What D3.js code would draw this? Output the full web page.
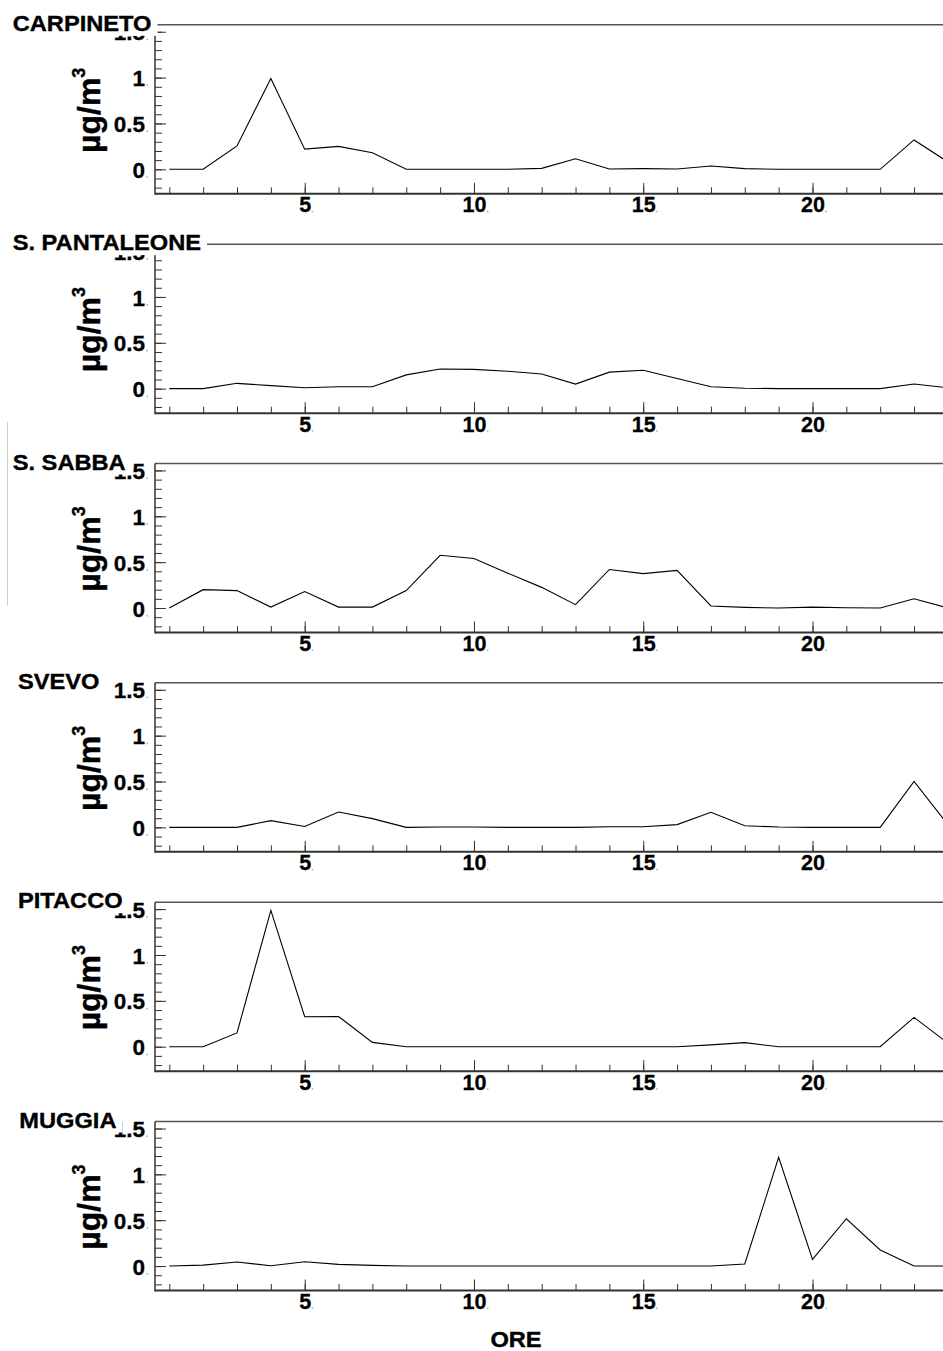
<!DOCTYPE html>
<html>
<head>
<meta charset="utf-8">
<script src="https://cdn.jsdelivr.net/npm/d3@7/dist/d3.min.js"></script>
<style>
  html, body { margin: 0; padding: 0; background: #fff; }
  svg { display: block; }
  text { font-family: "Liberation Sans", Arial, Helvetica, sans-serif; font-weight: bold; fill: #000; }
</style>
</head>
<body>
<svg id="chart" width="943" height="1351"></svg>
<script>
// ---- DATA ----
const hours = [1,2,3,4,5,6,7,8,9,10,11,12,13,14,15,16,17,18,19,20,21,22,23,24];
const stations = ["CARPINETO", "S. PANTALEONE", "S. SABBA", "SVEVO", "PITACCO", "MUGGIA"];
const carpineto   = [0, 0, 0.255, 0.99, 0.22, 0.25, 0.18, 0, 0, 0, 0, 0.01, 0.115, 0.004, 0.007, 0.004, 0.036, 0.007, 0, 0, 0, 0, 0.32, 0.08];
const pantaleone  = [0, 0, 0.058, 0.033, 0.01, 0.02, 0.02, 0.15, 0.215, 0.21, 0.19, 0.16, 0.05, 0.18, 0.2, 0.11, 0.02, 0.005, 0, 0, 0, 0, 0.05, 0.01];
const sabba       = [0, 0.2, 0.19, 0.01, 0.18, 0.01, 0.01, 0.19, 0.575, 0.54, 0.38, 0.225, 0.036, 0.42, 0.375, 0.41, 0.022, 0.007, 0, 0.01, 0.003, 0, 0.1, 0];
const svevo       = [0, 0, 0, 0.073, 0.01, 0.167, 0.095, 0, 0.004, 0.004, 0, 0, 0, 0.007, 0.007, 0.03, 0.164, 0.018, 0.004, 0, 0, 0, 0.5, 0.03];
const pitacco     = [0, 0, 0.15, 1.487, 0.327, 0.33, 0.047, 0, 0, 0, 0, 0, 0, 0, 0, 0, 0.02, 0.044, 0, 0, 0, 0, 0.32, 0.04];
const muggia      = [0, 0.01, 0.044, 0.004, 0.047, 0.018, 0.007, 0, 0, 0, 0, 0, 0, 0, 0, 0, 0, 0.022, 1.185, 0.073, 0.516, 0.175, 0, 0];
const series = [carpineto, pantaleone, sabba, svevo, pitacco, muggia];
const xTickLabels = [5, 10, 15, 20];
const yTickLabels = [0, 0.5, 1, 1.5];
const yMinorTicks = [-0.2,-0.1,0,0.1,0.2,0.3,0.4,0.5,0.6,0.7,0.8,0.9,1,1.1,1.2,1.3,1.4,1.5];
const yUnit = "µg/m";
const xTitle = "ORE";

// ---- LAYOUT ----
const W = 943, H = 1351;
const axisLeftX = 155;
const panelGap = 219.35;
const firstZero = 169.3;
const unitPx = 91.7;
const titleX = [12.7, 12.7, 12.7, 18, 18, 19.3];

const svg = d3.select("#chart");
svg.append("rect").attr("width", W).attr("height", H).attr("fill", "#fff");

const x = d3.scaleLinear().domain([1, 24]).range([169.3, 947.9]);

// faint vertical line left of third panel
svg.append("line").attr("x1", 7.5).attr("x2", 7.5).attr("y1", 422).attr("y2", 606)
  .attr("stroke", "#ccc").attr("stroke-width", 1);

stations.forEach((name, i) => {
  const zero = firstZero + i * panelGap;
  const y = d3.scaleLinear().domain([0, 1]).range([zero, zero - unitPx]);
  const top = zero - 144.5, bottom = zero + 24.5;
  const g = svg.append("g");

  // top border line
  g.append("line").attr("x1", axisLeftX).attr("x2", W).attr("y1", top).attr("y2", top)
    .attr("stroke", "#555").attr("stroke-width", 1.5);

  // x minor ticks
  const xMinor = g.append("g").attr("transform", `translate(0,${bottom})`)
    .call(d3.axisBottom(x).tickValues(hours).tickSizeInner(-6.5).tickSizeOuter(0).tickFormat(""));
  // x major ticks with labels
  const xMajor = g.append("g").attr("transform", `translate(0,${bottom})`)
    .call(d3.axisBottom(x).tickValues(xTickLabels).tickSizeInner(-11).tickSizeOuter(0).tickFormat(d3.format("d")));
  [xMinor, xMajor].forEach(a => {
    a.select(".domain").remove();
    a.selectAll("line").attr("stroke", "#333").attr("stroke-width", 1);
  });
  xMajor.selectAll("text")
    .attr("y", 18.5).attr("dy", 0)
    .attr("font-size", 21.5).attr("font-family", null).attr("fill", "#000")
    .attr("stroke", "#000").attr("stroke-width", 0.3);

  // y minor ticks
  const yMinor = g.append("g").attr("transform", `translate(${axisLeftX},0)`)
    .call(d3.axisLeft(y).tickValues(yMinorTicks).tickSizeInner(-7).tickSizeOuter(0).tickFormat(""));
  const yMajor = g.append("g").attr("transform", `translate(${axisLeftX},0)`)
    .call(d3.axisLeft(y).tickValues(yTickLabels).tickSizeInner(-11).tickSizeOuter(0).tickPadding(10).tickFormat(d => d3.format("")(d)));
  [yMinor, yMajor].forEach(a => {
    a.select(".domain").remove();
    a.selectAll("line").attr("stroke", "#333").attr("stroke-width", 1);
  });
  yMajor.selectAll("text")
    .attr("x", -10).attr("dy", "0.36em")
    .attr("font-size", 22.5).attr("font-family", null).attr("fill", "#000")
    .attr("stroke", "#000").attr("stroke-width", 0.3);

  // small dots after tick labels
  xMajor.selectAll(".tick").each(function() {
    const t = d3.select(this).select("text").node();
    const w = t.getComputedTextLength();
    d3.select(this).append("rect").attr("x", w / 2 + 0.5).attr("y", 17).attr("width", 1.5).attr("height", 1.5).attr("fill", "#aaa");
  });
  yMajor.selectAll(".tick").each(function() {
    d3.select(this).append("rect").attr("x", -8.5).attr("y", 6.5).attr("width", 1.5).attr("height", 1.5).attr("fill", "#aaa");
  });

  // axis lines
  g.append("line").attr("x1", axisLeftX).attr("x2", axisLeftX).attr("y1", top).attr("y2", bottom + 1)
    .attr("stroke", "#333").attr("stroke-width", 1.5);
  g.append("line").attr("x1", axisLeftX).attr("x2", W).attr("y1", bottom).attr("y2", bottom)
    .attr("stroke", "#333").attr("stroke-width", 2);

  // data line
  const line = d3.line().x((d, k) => x(hours[k])).y(d => y(d));
  g.append("path").datum(series[i]).attr("d", line)
    .attr("fill", "none").attr("stroke", "#000").attr("stroke-width", 1.1).attr("stroke-linejoin", "miter");

  // y axis unit label
  const yl = g.append("text")
    .attr("transform", `translate(100,${zero - 59}) rotate(-90)`)
    .attr("text-anchor", "middle").attr("font-size", 32)
    .attr("stroke", "#000").attr("stroke-width", 0.4);
  yl.append("tspan").text(yUnit);
  yl.append("tspan").attr("font-size", 18).attr("dy", -15).text("3");

  // station title with white box
  const base = zero - 138.5;
  const tg = g.append("g");
  const box = tg.append("rect").attr("fill", "#fff");
  const tt = tg.append("text")
    .attr("transform", `translate(${titleX[i]},${base}) scale(1.1,1)`)
    .attr("font-size", 21.5).attr("stroke", "#000").attr("stroke-width", 0.35).text(name);
  const tw = tt.node().getComputedTextLength() * 1.1;
  box.attr("x", titleX[i] - 3).attr("y", base - 20).attr("width", tw + 9).attr("height", 25);
});

// x axis title
svg.append("text").attr("transform", `translate(516,1346.7) scale(1.1,1)`)
  .attr("text-anchor", "middle").attr("font-size", 21.5)
  .attr("stroke", "#000").attr("stroke-width", 0.35).text(xTitle);
</script>
</body>
</html>
